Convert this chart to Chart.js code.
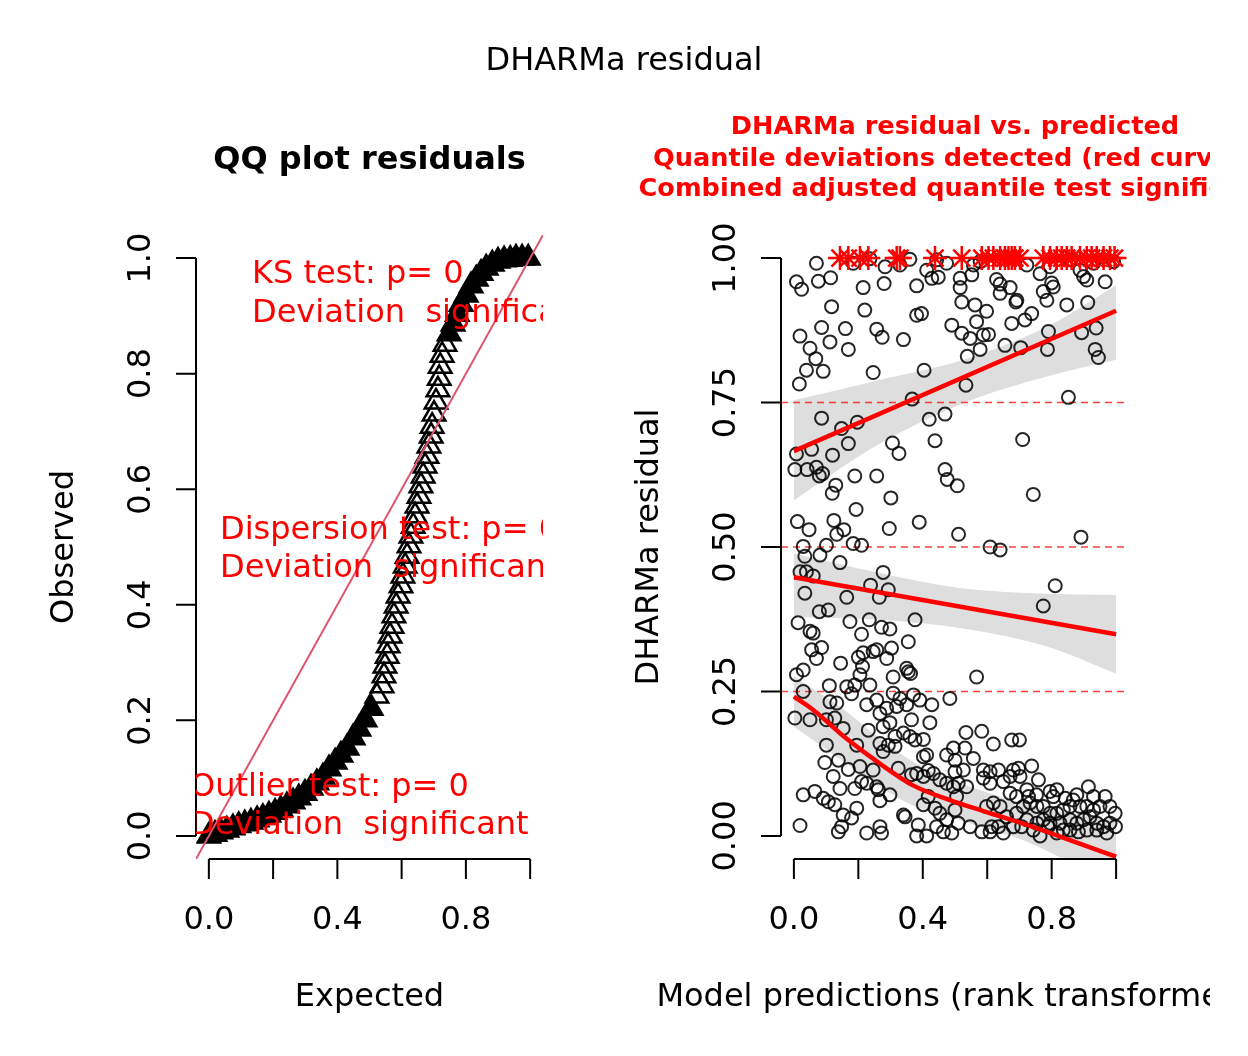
<!DOCTYPE html>
<html>
<head>
<meta charset="utf-8">
<title>DHARMa residual</title>
<script src="https://cdn.jsdelivr.net/npm/chart.js@4.4.1/dist/chart.umd.min.js"></script>
<style>
  html, body { margin: 0; padding: 0; background: #fff; }
  #wrap { position: relative; width: 1248px; height: 1056px; }
  #wrap canvas { position: absolute; top: 0; }
  #qqCanvas { left: 0; width: 1248px; height: 1056px; }
  #resCanvas { left: 624px; width: 586px; height: 1056px; }
</style>
</head>
<body>
<div id="wrap">
  <canvas id="qqCanvas" width="1248" height="1056"></canvas>
  <canvas id="resCanvas" width="586" height="1056"></canvas>
</div>
<script>
// ---- QQ plot: expected vs observed quantiles ----
const qqExpected = [
  0.000, 0.019, 0.037, 0.056, 0.075, 0.093, 0.112, 0.131, 0.150, 0.168,
  0.187, 0.206, 0.224, 0.243, 0.262, 0.280, 0.299, 0.318, 0.336, 0.355,
  0.374, 0.393, 0.411, 0.430, 0.449, 0.467, 0.486, 0.505, 0.523, 0.539,
  0.545, 0.548, 0.555, 0.558, 0.564, 0.570, 0.576, 0.583, 0.589, 0.598,
  0.604, 0.611, 0.617, 0.623, 0.629, 0.636, 0.642, 0.648, 0.654, 0.660,
  0.667, 0.673, 0.679, 0.685, 0.692, 0.695, 0.701, 0.707, 0.713, 0.717,
  0.720, 0.726, 0.735, 0.748, 0.760, 0.773, 0.785, 0.801, 0.816, 0.832,
  0.847, 0.863, 0.882, 0.900, 0.919, 0.938, 0.956, 0.975, 0.994,
];
const qqObserved = [
  0.000, 0.003, 0.007, 0.010, 0.014, 0.018, 0.021, 0.024, 0.028, 0.032,
  0.036, 0.041, 0.046, 0.052, 0.059, 0.066, 0.074, 0.083, 0.092, 0.102,
  0.116, 0.128, 0.140, 0.152, 0.170, 0.185, 0.201, 0.221, 0.242, 0.260,
  0.277, 0.294, 0.311, 0.329, 0.346, 0.363, 0.381, 0.398, 0.415, 0.433,
  0.450, 0.467, 0.484, 0.502, 0.519, 0.536, 0.554, 0.571, 0.588, 0.606,
  0.623, 0.640, 0.657, 0.675, 0.692, 0.709, 0.730, 0.751, 0.772, 0.792,
  0.813, 0.832, 0.851, 0.869, 0.886, 0.903, 0.920, 0.936, 0.952, 0.964,
  0.974, 0.983, 0.990, 0.995, 0.997, 0.998, 1.000, 1.000, 1.000,
];
const diagX = [-0.04, 1.04];

const qqTicks = [0, 0.2, 0.4, 0.6, 0.8, 1.0];
const qqXLabels = ["0.0", "", "0.4", "", "0.8", ""];
const qqYLabels = ["0.0", "0.2", "0.4", "0.6", "0.8", "1.0"];

// ---- residual vs predicted ----
const resX = [
  // upper part
  0.070, 0.008, 0.024, 0.076, 0.114, 0.184, 0.236, 0.215, 0.283, 0.280,
  0.329, 0.381, 0.360, 0.412, 0.428, 0.448, 0.443, 0.474, 0.516, 0.516,
  0.552, 0.557, 0.578, 0.629, 0.640, 0.671, 0.640, 0.689, 0.692, 0.723,
  0.764, 0.795, 0.774, 0.800, 0.805, 0.785, 0.857, 0.888, 0.899, 0.909,
  0.930, 0.966, 0.992, 0.117, 0.220, 0.521, 0.562, 0.598, 0.381, 0.396,
  0.019, 0.086, 0.160, 0.257, 0.274, 0.340, 0.490, 0.521, 0.547, 0.567,
  0.588, 0.604, 0.676, 0.717, 0.738, 0.847, 0.912, 0.790, 0.893, 0.938,
  0.050, 0.112, 0.169, 0.068, 0.039, 0.091, 0.017, 0.246, 0.404, 0.538,
  0.578, 0.655, 0.704, 0.787, 0.935, 0.945, 0.534, 0.367, 0.852, 0.086,
  0.148, 0.197, 0.169, 0.055, 0.008, 0.120, 0.003, 0.041, 0.070, 0.079,
  0.089, 0.420, 0.469, 0.438, 0.306, 0.326, 0.189, 0.257, 0.469, 0.476,
  0.507, 0.130, 0.119, 0.710, 0.743, 0.301, 0.193, 0.011, 0.047, 0.124,
  0.155, 0.133, 0.296, 0.389, 0.511, 0.891,
  // middle part
  0.029, 0.101, 0.184, 0.210, 0.609, 0.640, 0.034, 0.081, 0.143, 0.019,
  0.039, 0.060, 0.277, 0.034, 0.238, 0.293, 0.164, 0.265, 0.811, 0.774,
  0.079, 0.107, 0.013, 0.174, 0.234, 0.376, 0.050, 0.060, 0.272, 0.298,
  0.210, 0.355, 0.055, 0.086, 0.070, 0.200, 0.215, 0.246, 0.257, 0.303,
  0.288, 0.145, 0.213, 0.350, 0.355, 0.362, 0.567, 0.008, 0.029, 0.205,
  0.308,
  // lower left
  0.110, 0.164, 0.189, 0.236, 0.029, 0.112, 0.133, 0.179, 0.226, 0.257,
  0.308, 0.329, 0.371, 0.391, 0.428, 0.484, 0.288, 0.319, 0.267, 0.350,
  0.365, 0.422, 0.277, 0.298, 0.003, 0.050, 0.101, 0.127, 0.153, 0.231,
  0.314, 0.340, 0.360, 0.376, 0.402, 0.267, 0.293, 0.195, 0.101, 0.138,
  0.096, 0.169, 0.205, 0.246, 0.277, 0.314, 0.402, 0.412, 0.474, 0.495,
  0.122, 0.143, 0.189, 0.210, 0.226, 0.257, 0.262, 0.298, 0.267, 0.324,
  0.365, 0.381, 0.402, 0.417, 0.433, 0.453, 0.474, 0.495, 0.500, 0.029,
  0.065, 0.091, 0.107, 0.127, 0.195, 0.153, 0.179, 0.148, 0.138, 0.019,
  0.226, 0.267, 0.272, 0.340, 0.345, 0.386, 0.381, 0.402, 0.417, 0.438,
  0.453, 0.474, 0.443, 0.464, 0.490, 0.412, 0.505, 0.500, 0.510,
  // lower right
  0.534, 0.583, 0.619, 0.676, 0.700, 0.531, 0.557, 0.500, 0.526, 0.510,
  0.536, 0.588, 0.609, 0.635, 0.681, 0.697, 0.738, 0.759, 0.588, 0.609,
  0.650, 0.671, 0.702, 0.723, 0.671, 0.691, 0.728, 0.753, 0.795, 0.805,
  0.816, 0.842, 0.867, 0.878, 0.914, 0.930, 0.966, 0.997, 0.981, 0.950,
  0.930, 0.909, 0.888, 0.857, 0.836, 0.816, 0.795, 0.774, 0.754, 0.733,
  0.712, 0.691, 0.660, 0.640, 0.619, 0.598, 0.614, 0.583, 0.547, 0.609,
  0.635, 0.650, 0.681, 0.723, 0.754, 0.774, 0.795, 0.826, 0.836, 0.857,
  0.878, 0.899, 0.919, 0.940, 0.961, 0.981, 0.998, 0.909, 0.940, 0.971,
  0.857, 0.883, 0.816, 0.743, 0.764, 0.789, 0.707,
];
const resY = [
  // upper part
  0.991, 0.959, 0.946, 0.960, 0.966, 0.991, 0.999, 0.949, 0.985, 0.956,
  0.988, 0.952, 0.998, 0.979, 0.965, 0.967, 0.997, 0.991, 0.965, 0.949,
  0.971, 0.988, 0.994, 0.963, 0.955, 0.949, 0.939, 0.924, 0.927, 0.988,
  0.973, 0.985, 0.942, 0.957, 0.950, 0.927, 0.997, 0.979, 0.968, 0.962,
  0.991, 0.959, 0.994, 0.916, 0.910, 0.924, 0.919, 0.908, 0.901, 0.904,
  0.865, 0.880, 0.878, 0.877, 0.863, 0.859, 0.884, 0.870, 0.861, 0.890,
  0.867, 0.868, 0.887, 0.893, 0.904, 0.919, 0.923, 0.873, 0.871, 0.879,
  0.844, 0.855, 0.842, 0.826, 0.806, 0.804, 0.782, 0.802, 0.806, 0.830,
  0.842, 0.849, 0.845, 0.842, 0.842, 0.828, 0.780, 0.756, 0.759, 0.723,
  0.705, 0.716, 0.679, 0.669, 0.661, 0.659, 0.634, 0.634, 0.638, 0.623,
  0.627, 0.721, 0.730, 0.684, 0.680, 0.662, 0.623, 0.623, 0.634, 0.617,
  0.606, 0.607, 0.593, 0.686, 0.591, 0.585, 0.565, 0.544, 0.530, 0.546,
  0.530, 0.522, 0.532, 0.543, 0.522, 0.517,
  // middle part
  0.501, 0.503, 0.506, 0.503, 0.500, 0.495, 0.484, 0.486, 0.473, 0.457,
  0.457, 0.450, 0.456, 0.420, 0.434, 0.426, 0.413, 0.413, 0.433, 0.398,
  0.388, 0.391, 0.369, 0.371, 0.374, 0.374, 0.354, 0.351, 0.361, 0.358,
  0.349, 0.336, 0.322, 0.326, 0.307, 0.309, 0.317, 0.319, 0.322, 0.325,
  0.307, 0.299, 0.293, 0.290, 0.284, 0.281, 0.275, 0.279, 0.287, 0.279,
  0.275,
  // lower left
  0.260, 0.258, 0.261, 0.261, 0.250, 0.232, 0.230, 0.246, 0.227, 0.235,
  0.247, 0.238, 0.244, 0.235, 0.227, 0.238, 0.221, 0.224, 0.212, 0.227,
  0.201, 0.196, 0.189, 0.196, 0.204, 0.201, 0.201, 0.204, 0.186, 0.183,
  0.172, 0.178, 0.172, 0.166, 0.167, 0.160, 0.157, 0.157, 0.157, 0.131,
  0.127, 0.115, 0.120, 0.114, 0.146, 0.155, 0.137, 0.140, 0.140, 0.152,
  0.103, 0.082, 0.082, 0.094, 0.091, 0.085, 0.080, 0.071, 0.061, 0.117,
  0.106, 0.108, 0.103, 0.113, 0.108, 0.097, 0.091, 0.085, 0.111, 0.071,
  0.077, 0.065, 0.059, 0.054, 0.048, 0.036, 0.031, 0.016, 0.007, 0.018,
  0.005, 0.016, 0.005, 0.036, 0.033, 0.019, 0.000, 0.054, 0.068, 0.048,
  0.039, 0.028, 0.016, 0.007, 0.005, 0.000, 0.068, 0.045, 0.022,
  // lower right
  0.179, 0.181, 0.159, 0.166, 0.166, 0.152, 0.134, 0.131, 0.114, 0.091,
  0.085, 0.114, 0.111, 0.114, 0.114, 0.117, 0.121, 0.097, 0.100, 0.091,
  0.094, 0.103, 0.103, 0.080, 0.074, 0.068, 0.068, 0.071, 0.077, 0.068,
  0.080, 0.065, 0.062, 0.071, 0.085, 0.068, 0.068, 0.039, 0.051, 0.051,
  0.045, 0.051, 0.051, 0.051, 0.045, 0.039, 0.039, 0.051, 0.051, 0.057,
  0.051, 0.039, 0.033, 0.051, 0.057, 0.051, 0.016, 0.007, 0.016, 0.007,
  0.016, 0.005, 0.016, 0.028, 0.022, 0.028, 0.022, 0.022, 0.010, 0.010,
  0.022, 0.028, 0.033, 0.022, 0.016, 0.022, 0.016, 0.010, 0.010, 0.005,
  0.028, 0.007, 0.005, 0.010, 0.000, 0.016, 0.016,
];

// residuals exactly at the upper boundary (outliers)
const starX = [
  0.143, 0.169, 0.205, 0.231, 0.319, 0.329, 0.438, 0.521, 0.583, 0.604,
  0.619, 0.640, 0.655, 0.666, 0.676, 0.686, 0.702, 0.774, 0.795, 0.816,
  0.831, 0.847, 0.862, 0.888, 0.909, 0.924, 0.940, 0.961, 0.981, 0.995,
];
const starY = [
  1, 1, 1, 1, 1, 1, 1, 1, 1, 1,
  1, 1, 1, 1, 1, 1, 1, 1, 1, 1,
  1, 1, 1, 1, 1, 1, 1, 1, 1, 1,
];

// quantile regression fits
const q75X = [0, 1];
const q75Y = [0.666, 0.909];
const q50X = [0, 1];
const q50Y = [0.4475, 0.349];
const q25X = [0, 0.06, 0.164, 0.267, 0.371, 0.484, 0.588, 0.691, 0.795, 0.919, 1.0];
const q25Y = [0.241, 0.218, 0.168, 0.125, 0.087, 0.062, 0.043, 0.025, 0.005, -0.020, -0.036];

// confidence bands
const band75X = [0, 0.267, 0.526, 0.785, 1.0];
const band75Hi = [0.754, 0.789, 0.824, 0.881, 0.953];
const band75Lo = [0.581, 0.679, 0.749, 0.795, 0.824];
const band50X = [0, 0.267, 0.526, 0.785, 1.0];
const band50Hi = [0.489, 0.455, 0.428, 0.419, 0.417];
const band50Lo = [0.379, 0.374, 0.359, 0.328, 0.281];
const band25X = [0, 0.164, 0.267, 0.371, 0.5, 0.6, 0.7, 0.8, 0.9, 1.0];
const band25Hi = [0.276, 0.215, 0.168, 0.128, 0.095, 0.075, 0.058, 0.045, 0.035, 0.028];
const band25Lo = [0.189, 0.125, 0.085, 0.052, 0.030, 0.012, -0.005, -0.030, -0.060, -0.100];

const quantileLevels = [0.25, 0.5, 0.75];
const resXTicks = [0, 0.2, 0.4, 0.6, 0.8, 1.0];
const resXLabels = ["0.0", "", "0.4", "", "0.8", ""];
const resYTicks = [0, 0.25, 0.5, 0.75, 1.0];
const resYLabels = ["0.00", "0.25", "0.50", "0.75", "1.00"];

const FONT = '"DejaVu Sans", sans-serif';
const RED = "#ff0000";

const pts = (xs, ys) => xs.map((x, i) => ({ x, y: ys[i] }));

// R-style base graphics axes, titles and texts
const rAxesPlugin = {
  id: "rAxes",
  afterDraw(chart, args, o) {
    const { ctx, chartArea: a, scales: { x, y } } = chart;
    ctx.save();
    ctx.strokeStyle = "#000";
    ctx.fillStyle = "#000";
    ctx.lineWidth = 2;

    const xs = o.xTicks.map((v) => x.getPixelForValue(v));
    const ys = o.yTicks.map((v) => y.getPixelForValue(v));
    ctx.beginPath();
    ctx.moveTo(xs[0], a.bottom);
    ctx.lineTo(xs[xs.length - 1], a.bottom);
    xs.forEach((px) => { ctx.moveTo(px, a.bottom); ctx.lineTo(px, a.bottom + 20); });
    ctx.moveTo(a.left, ys[0]);
    ctx.lineTo(a.left, ys[ys.length - 1]);
    ys.forEach((py) => { ctx.moveTo(a.left, py); ctx.lineTo(a.left - 20, py); });
    ctx.stroke();

    ctx.font = `32px ${FONT}`;
    ctx.textAlign = "center";
    ctx.textBaseline = "alphabetic";
    o.xLabels.forEach((lab, i) => { if (lab) ctx.fillText(lab, xs[i], a.bottom + 70); });
    o.yLabels.forEach((lab, i) => {
      ctx.save();
      ctx.translate(a.left - 46, ys[i]);
      ctx.rotate(-Math.PI / 2);
      ctx.fillText(lab, 0, 0);
      ctx.restore();
    });

    const cx = (a.left + a.right) / 2;
    const cy = (a.top + a.bottom) / 2;
    ctx.fillText(o.xTitle, cx, a.bottom + 147);
    ctx.save();
    ctx.translate(a.left - 123, cy);
    ctx.rotate(-Math.PI / 2);
    ctx.fillText(o.yTitle, 0, 0);
    ctx.restore();

    (o.titles || []).forEach((t) => {
      ctx.font = t.font;
      ctx.fillStyle = t.color || "#000";
      ctx.fillText(t.text, t.page ? chart.width / 2 : cx, a.top + t.dy);
    });

    if (o.notes) {
      ctx.save();
      ctx.beginPath();
      ctx.rect(a.left, a.top, a.right - a.left, a.bottom - a.top);
      ctx.clip();
      ctx.font = `32px ${FONT}`;
      ctx.fillStyle = RED;
      ctx.textAlign = "left";
      o.notes.forEach((n) => ctx.fillText(n.text, a.left + n.dx, a.top + n.dy));
      ctx.restore();
    }
    ctx.restore();
  },
};

function baseOptions(padding, axes) {
  return {
    responsive: false,
    animation: false,
    devicePixelRatio: 1,
    events: [],
    layout: { padding },
    scales: {
      x: { type: "linear", display: false, min: -0.04, max: 1.04 },
      y: { type: "linear", display: false, min: -0.04, max: 1.04 },
    },
    plugins: { legend: { display: false }, tooltip: { enabled: false }, rAxes: axes },
  };
}

// overlapping triangles merge into a solid band at both ends of the curve
const qqFill = (c) => (c.raw && (c.raw.y < 0.24 || c.raw.y > 0.86) ? "#000" : "rgba(0,0,0,0)");

new Chart(document.getElementById("qqCanvas"), {
  type: "scatter",
  data: {
    datasets: [
      {
        label: "identity",
        data: pts(diagX, diagX),
        showLine: true,
        borderColor: "#DF536B",
        borderWidth: 2,
        pointRadius: 0,
        order: 0,
      },
      {
        label: "QQ",
        data: pts(qqExpected, qqObserved),
        pointStyle: "triangle",
        pointRadius: 13,
        borderWidth: 2.5,
        borderColor: "#000",
        backgroundColor: qqFill,
        order: 1,
      },
    ],
  },
  options: baseOptions({ left: 196, right: 705, top: 235, bottom: 197 }, {
    xTicks: qqTicks, xLabels: qqXLabels,
    yTicks: qqTicks, yLabels: qqYLabels,
    xTitle: "Expected", yTitle: "Observed",
    titles: [
      { text: "DHARMa residual", font: `32px ${FONT}`, dy: -165, page: true },
      { text: "QQ plot residuals", font: `bold 32px ${FONT}`, dy: -66 },
    ],
    notes: [
      { text: "KS test: p= 0", dx: 56, dy: 48 },
      { text: "Deviation  significant", dx: 56, dy: 87 },
      { text: "Dispersion test: p= 0", dx: 24, dy: 304 },
      { text: "Deviation  significant", dx: 24, dy: 342 },
      { text: "Outlier test: p= 0", dx: -6, dy: 561 },
      { text: "Deviation  significant", dx: -6, dy: 599 },
    ],
  }),
  plugins: [rAxesPlugin],
});

const bandStyle = {
  showLine: true,
  borderWidth: 0,
  pointRadius: 0,
  cubicInterpolationMode: "monotone",
  order: 4,
};
const fitStyle = {
  showLine: true,
  borderColor: RED,
  borderWidth: 4.5,
  pointRadius: 0,
  cubicInterpolationMode: "monotone",
  order: 1,
};

const resDatasets = [
  { label: "band75Lo", data: pts(band75X, band75Lo), ...bandStyle },
  { label: "band75Hi", data: pts(band75X, band75Hi), ...bandStyle, fill: { target: 0 }, backgroundColor: "#dedede" },
  { label: "band50Lo", data: pts(band50X, band50Lo), ...bandStyle },
  { label: "band50Hi", data: pts(band50X, band50Hi), ...bandStyle, fill: { target: 2 }, backgroundColor: "#dedede" },
  { label: "band25Lo", data: pts(band25X, band25Lo), ...bandStyle },
  { label: "band25Hi", data: pts(band25X, band25Hi), ...bandStyle, fill: { target: 4 }, backgroundColor: "#dedede" },
  ...quantileLevels.map((q) => ({
    label: `level ${q}`,
    data: pts([-0.04, 1.04], [q, q]),
    showLine: true,
    borderColor: "rgba(255,0,0,0.75)",
    borderWidth: 1.5,
    borderDash: [7, 5],
    pointRadius: 0,
    order: 3,
  })),
  {
    label: "residuals",
    data: pts(resX, resY),
    pointStyle: "circle",
    pointRadius: 6.5,
    borderWidth: 2,
    borderColor: "rgba(0,0,0,0.85)",
    backgroundColor: "rgba(0,0,0,0)",
    order: 2,
  },
  { label: "q75", data: pts(q75X, q75Y), ...fitStyle },
  { label: "q50", data: pts(q50X, q50Y), ...fitStyle },
  { label: "q25", data: pts(q25X, q25Y), ...fitStyle },
  {
    label: "outliers",
    data: pts(starX, starY),
    pointStyle: "star",
    pointRadius: 12,
    borderWidth: 2.5,
    borderColor: RED,
    order: 0,
  },
];

new Chart(document.getElementById("resCanvas"), {
  type: "scatter",
  data: { datasets: resDatasets },
  options: baseOptions({ left: 157, right: 81, top: 235, bottom: 197 }, {
    xTicks: resXTicks, xLabels: resXLabels,
    yTicks: resYTicks, yLabels: resYLabels,
    xTitle: "Model predictions (rank transformed)", yTitle: "DHARMa residual",
    titles: [
      { text: "DHARMa residual vs. predicted", font: `bold 25.6px ${FONT}`, color: RED, dy: -101 },
      { text: "Quantile deviations detected (red curves)", font: `bold 25.6px ${FONT}`, color: RED, dy: -69 },
      { text: "Combined adjusted quantile test significant", font: `bold 25.6px ${FONT}`, color: RED, dy: -39 },
    ],
  }),
  plugins: [rAxesPlugin],
});
</script>
</body>
</html>
